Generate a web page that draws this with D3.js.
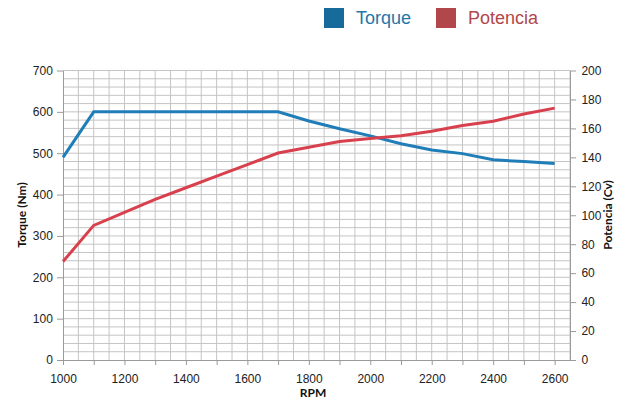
<!DOCTYPE html>
<html>
<head>
<meta charset="utf-8">
<script src="https://cdn.jsdelivr.net/npm/d3@7"></script>
<style>
  body { margin: 0; background: #fff; }
  svg { display: block; font-family: Lato, "Open Sans", sans-serif; }
</style>
</head>
<body>
<svg width="632" height="400"></svg>
<script>
// data
const rpm = [1000, 1100, 1200, 1300, 1400, 1500, 1600, 1700, 1800, 1900, 2000, 2100, 2200, 2300, 2400, 2500, 2600];
const torque = [490, 600, 600, 600, 600, 600, 600, 600, 578, 559, 542, 523, 508, 499, 484, 480, 475];
const potencia = [68, 93, 102, 111, 119, 127, 135, 143, 147, 151, 153, 155, 158, 162, 165, 170, 174];
const xTicks = [1000, 1200, 1400, 1600, 1800, 2000, 2200, 2400, 2600];
const leftTicks = [0, 100, 200, 300, 400, 500, 600, 700];
const rightTicks = [0, 20, 40, 60, 80, 100, 120, 140, 160, 180, 200];

var svg = d3.select("svg");
var m = { left: 63, right: 570, top: 70.5, bottom: 360 };

var x = d3.scaleLinear().domain([1000, 2650]).range([m.left, m.right]);
var yL = d3.scaleLinear().domain([0, 700]).range([m.bottom, m.top]);
var yR = d3.scaleLinear().domain([0, 200]).range([m.bottom, m.top]);

// grid
var grid = svg.append("g");
grid.selectAll(".vg")
    .data(d3.range(1050, 2651, 50))
    .enter().append("line")
    .attr("x1", d => x(d)).attr("x2", d => x(d))
    .attr("y1", m.top).attr("y2", m.bottom)
    .attr("stroke", "#c4c4c4").attr("stroke-width", 1);
grid.selectAll(".hg")
    .data(d3.range(20, 701, 20))
    .enter().append("line")
    .attr("x1", m.left).attr("x2", m.right)
    .attr("y1", d => yL(d)).attr("y2", d => yL(d))
    .attr("stroke", "#c4c4c4").attr("stroke-width", 1);

// axes
var xAxis = svg.append("g")
    .attr("transform", `translate(0,${m.bottom})`)
    .call(d3.axisBottom(x).tickValues(d3.range(1000, 2601, 100))
        .tickFormat(d => xTicks.includes(d) ? d : "").tickSize(5).tickSizeOuter(0));
var lAxis = svg.append("g")
    .attr("transform", `translate(${m.left},0)`)
    .call(d3.axisLeft(yL).tickValues(leftTicks).tickSize(6).tickSizeOuter(0));
var rAxis = svg.append("g")
    .attr("transform", `translate(${m.right},0)`)
    .call(d3.axisRight(yR).tickValues(rightTicks).tickSize(6).tickSizeOuter(0));

[xAxis, lAxis, rAxis].forEach(a => {
    a.select(".domain").attr("stroke", "#9a9a9a");
    a.selectAll(".tick line").attr("stroke", "#9a9a9a");
    a.selectAll("text").attr("fill", "#222").style("font-size", "12px");
});
xAxis.selectAll("text").attr("dy", "1.25em");
lAxis.selectAll("text").attr("dx", "-0.1em");
rAxis.selectAll("text").attr("dx", "0.2em");

// lines
var torqueLine = d3.line().x((d, i) => x(rpm[i])).y(d => yL(d));
var potLine = d3.line().x((d, i) => x(rpm[i])).y(d => yR(d));

svg.append("path").datum(torque)
    .attr("d", torqueLine)
    .attr("fill", "none").attr("stroke", "#1f7db8").attr("stroke-width", 3);
svg.append("path").datum(potencia)
    .attr("d", potLine)
    .attr("fill", "none").attr("stroke", "#d8404e").attr("stroke-width", 3);

// axis titles
svg.append("text")
    .attr("transform", "translate(26,215) rotate(-90)")
    .attr("text-anchor", "middle")
    .style("font-size", "12px").style("font-weight", "bold").attr("fill", "#111")
    .text("Torque (Nm)");
svg.append("text")
    .attr("transform", "translate(612,215) rotate(-90)")
    .attr("text-anchor", "middle")
    .style("font-size", "12px").style("font-weight", "bold").attr("fill", "#111")
    .text("Potencia (Cv)");
svg.append("text")
    .attr("x", 313).attr("y", 397)
    .attr("text-anchor", "middle")
    .style("font-size", "12px").style("font-weight", "bold").attr("fill", "#111")
    .text("RPM");

// legend
var legend = [
    { name: "Torque", box: "#176b9b", text: "#1f77a8", x: 324 },
    { name: "Potencia", box: "#b2474b", text: "#b2474b", x: 436 }
];
var lg = svg.selectAll(".lg").data(legend).enter().append("g");
lg.append("rect")
    .attr("x", d => d.x).attr("y", 8)
    .attr("width", 20).attr("height", 20)
    .attr("fill", d => d.box);
lg.append("text")
    .attr("x", d => d.x + 32).attr("y", 24)
    .style("font-family", "'Liberation Sans', Arial, sans-serif")
    .style("font-size", "18px")
    .attr("fill", d => d.text)
    .text(d => d.name);
</script>
</body>
</html>
